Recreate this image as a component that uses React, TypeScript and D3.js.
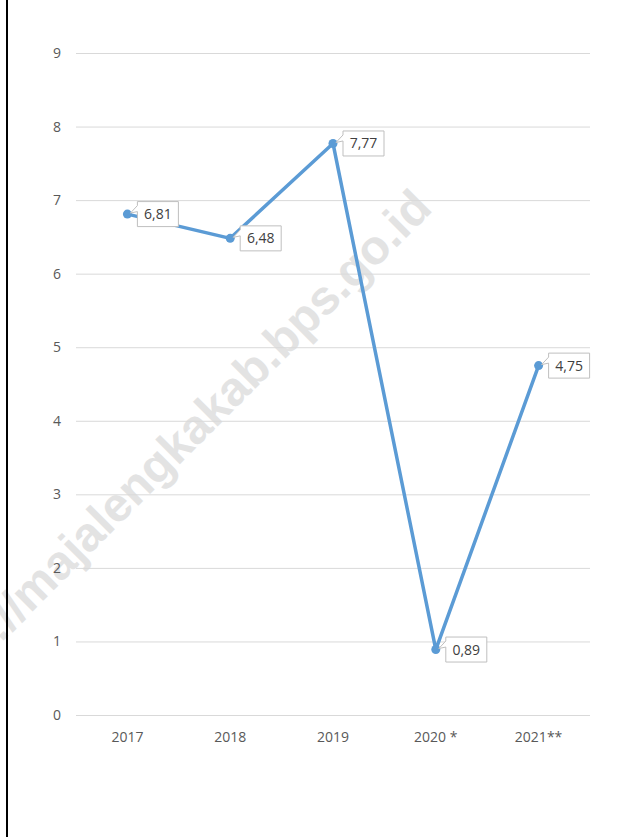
import React, { useRef, useEffect } from "react";
import { select, scaleLinear, scaleBand, line, range } from "d3";

const years = ["2017", "2018", "2019", "2020 *", "2021**"];
const growth = [6.81, 6.48, 7.77, 0.89, 4.75];
const growthLabels = ["6,81", "6,48", "7,77", "0,89", "4,75"];
const yTicks = range(0, 10);

const App = () => {
  const svgRef = useRef<SVGSVGElement>(null);

  useEffect(() => {
    const width = 625;
    const height = 837;
    const margin = { top: 53, right: 35, bottom: 122, left: 76 };
    const font = "'Open Sans', sans-serif";

    const svg = select(svgRef.current)
      .attr("width", width)
      .attr("height", height);
    svg.selectAll("*").remove();

    const xScale = scaleBand()
      .domain(years)
      .range([margin.left, width - margin.right]);

    const yScale = scaleLinear()
      .domain([0, 9])
      .range([height - margin.bottom, margin.top]);

    // watermark goes underneath everything
    svg
      .append("text")
      .attr("transform", "translate(434,210) rotate(-45)")
      .attr("text-anchor", "end")
      .attr("font-family", "'Liberation Sans', Arial, sans-serif")
      .attr("font-weight", "bold")
      .attr("font-size", 48)
      .attr("fill", "#e3e3e3")
      .text("http://majalengkakab.bps.go.id");

    // frame line on the left
    svg
      .append("line")
      .attr("x1", 7)
      .attr("x2", 7)
      .attr("y1", 0)
      .attr("y2", height)
      .attr("stroke", "#000")
      .attr("stroke-width", 2);

    // gridlines + y labels
    svg
      .selectAll(".grid")
      .data(yTicks)
      .join("line")
      .attr("class", "grid")
      .attr("x1", margin.left)
      .attr("x2", width - margin.right)
      .attr("y1", (d) => yScale(d) + 0.5)
      .attr("y2", (d) => yScale(d) + 0.5)
      .attr("stroke", "#d9d9d9")
      .attr("stroke-width", 1);

    svg
      .selectAll(".ylab")
      .data(yTicks)
      .join("text")
      .attr("class", "ylab")
      .attr("x", 61)
      .attr("y", (d) => yScale(d) + 5)
      .attr("text-anchor", "end")
      .attr("font-family", font)
      .attr("font-size", 14)
      .attr("fill", "#595959")
      .text((d) => d);

    // x labels
    svg
      .selectAll(".xlab")
      .data(years)
      .join("text")
      .attr("class", "xlab")
      .attr("x", (d) => xScale(d)! + xScale.bandwidth() / 2)
      .attr("y", yScale(0) + 27)
      .attr("text-anchor", "middle")
      .attr("font-family", font)
      .attr("font-size", 14)
      .attr("fill", "#595959")
      .text((d) => d);

    const px = (i: number) => xScale(years[i])! + xScale.bandwidth() / 2;
    const py = (i: number) => yScale(growth[i]);

    const path = line<number>()
      .x((d, i) => px(i))
      .y((d) => yScale(d));

    svg
      .append("path")
      .datum(growth)
      .attr("d", path)
      .attr("fill", "none")
      .attr("stroke", "#5b9bd5")
      .attr("stroke-width", 3.5)
      .attr("stroke-linejoin", "round");

    svg
      .selectAll(".dot")
      .data(growth)
      .join("circle")
      .attr("class", "dot")
      .attr("cx", (d, i) => px(i))
      .attr("cy", (d) => yScale(d))
      .attr("r", 4.5)
      .attr("fill", "#5b9bd5");

    // callout labels
    const boxW = 41;
    const boxH = 25;
    const labels = svg
      .selectAll(".callout")
      .data(growth)
      .join("g")
      .attr("class", "callout");

    labels
      .append("path")
      .attr("d", (d, i) => {
        const bx = px(i) + 10;
        const by = py(i) - boxH / 2;
        const tx = px(i) + 3;
        const ty = py(i) - 1;
        return `M${bx},${by} H${bx + boxW} V${by + boxH} H${bx} V${by + 10} L${tx},${ty} L${bx},${by + 4} Z`;
      })
      .attr("fill", "#fff")
      .attr("stroke", "#bfbfbf")
      .attr("stroke-width", 1);

    labels
      .append("text")
      .attr("x", (d, i) => px(i) + 10 + boxW / 2)
      .attr("y", (d, i) => py(i) + 5)
      .attr("text-anchor", "middle")
      .attr("font-family", font)
      .attr("font-size", 14)
      .attr("fill", "#404040")
      .text((d, i) => growthLabels[i]);
  }, []);

  return (
    <div style={{ position: "absolute", left: 0, top: 0 }}>
      <svg ref={svgRef}></svg>
    </div>
  );
};

export default App;
